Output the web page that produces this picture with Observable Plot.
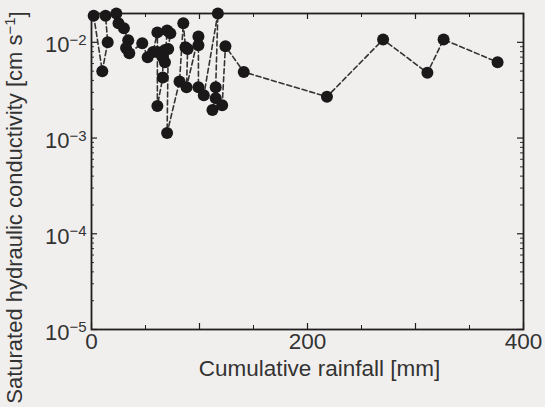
<!DOCTYPE html>
<html><head><meta charset="utf-8">
<script src="https://cdn.jsdelivr.net/npm/d3@7"></script>
<script src="https://cdn.jsdelivr.net/npm/@observablehq/plot@0.6"></script>
<style>
html,body{margin:0;padding:0;background:#f1efee;}
#chart{width:545px;height:407px;overflow:hidden;}
svg{display:block;}
</style></head><body><div id="chart"></div>
<script>
// Cumulative rainfall [mm], in sampling order
const rainfall = [2, 10, 15, 13, 23, 25, 30, 34, 32, 35, 47, 52, 57, 61, 61, 61, 66, 66, 68, 68, 70, 73, 71, 70, 81.5, 85, 87, 89, 88, 99, 99, 99, 104, 117, 115, 115, 112, 121, 124, 141, 218, 270, 311, 326, 376];
// Saturated hydraulic conductivity [cm s^-1]
const conductivity = [0.019, 0.005, 0.010, 0.019, 0.020, 0.0158, 0.014, 0.0105, 0.0087, 0.0077, 0.0098, 0.0070, 0.0079, 0.0127, 0.0079, 0.00216, 0.0043, 0.0070, 0.0083, 0.0062, 0.0133, 0.0124, 0.0085, 0.00113, 0.0039, 0.0158, 0.0089, 0.0085, 0.0034, 0.0115, 0.0093, 0.0034, 0.0028, 0.020, 0.0034, 0.0026, 0.00196, 0.0022, 0.0091, 0.0049, 0.0027, 0.0107, 0.0048, 0.0107, 0.0062];

const xTickLabels = [0, 200, 400];
const xMajorTicks = [0, 100, 200, 300, 400];
const xMinorTicks = [50, 150, 250, 350];
const yDecades = [1e-5, 1e-4, 1e-3, 1e-2];
const yMinorMultipliers = [2, 3, 4, 5, 6, 7, 8, 9];
const yMinorTicks = yDecades.flatMap(d => yMinorMultipliers.map(m => m * d)).filter(v => v < 0.02);

const data = rainfall.map((x, i) => ({x, y: conductivity[i]}));

const W = 545, H = 407, mt = 13, mb = 78, ml = 91, mr = 22;
const pH = H - mt - mb, pW = W - ml - mr;
const ink = "#1f1d1d";

const chart = Plot.plot({
  width: W, height: H,
  marginTop: mt, marginBottom: mb, marginLeft: ml, marginRight: mr,
  style: {background: "transparent", fontFamily: "'Liberation Sans', Arial, sans-serif", fontSize: "22px", color: "#333"},
  x: {domain: [0, 400]},
  y: {type: "log", domain: [1e-5, 0.02]},
  marks: [
    Plot.axisX(xTickLabels, {tickSize: 0, tickPadding: 4, tickFormat: d => String(d), label: "Cumulative rainfall [mm]", labelAnchor: "center", labelArrow: false, labelOffset: 46, fontSize: 22.5}),
    Plot.axisY(yDecades, {tickSize: 0, tickPadding: 5, dy: 3, tickFormat: d => "10^" + Math.round(Math.log10(d)), label: "Saturated hydraulic conductivity [cm s^-1]", labelAnchor: "center", labelArrow: false, labelOffset: 85, fontSize: 22}),
    // inward ticks on all four sides
    Plot.ruleX(xMajorTicks, {x: d => d, insetTop: pH - 6, stroke: ink, strokeWidth: 1.2}),
    Plot.ruleX(xMajorTicks, {x: d => d, insetBottom: pH - 6, stroke: ink, strokeWidth: 1.2}),
    Plot.ruleX(xMinorTicks, {x: d => d, insetTop: pH - 4, stroke: ink, strokeWidth: 1}),
    Plot.ruleX(xMinorTicks, {x: d => d, insetBottom: pH - 4, stroke: ink, strokeWidth: 1}),
    Plot.ruleY(yDecades, {y: d => d, insetRight: pW - 6, stroke: ink, strokeWidth: 1.2}),
    Plot.ruleY(yDecades, {y: d => d, insetLeft: pW - 6, stroke: ink, strokeWidth: 1.2}),
    Plot.ruleY(yMinorTicks, {y: d => d, insetRight: pW - 3, stroke: ink, strokeWidth: 0.9}),
    Plot.ruleY(yMinorTicks, {y: d => d, insetLeft: pW - 3, stroke: ink, strokeWidth: 0.9}),
    Plot.frame({stroke: ink, strokeWidth: 1.8}),
    Plot.line(data, {x: "x", y: "y", stroke: "#333", strokeWidth: 1.6, strokeDasharray: "5,3"}),
    Plot.dot(data, {x: "x", y: "y", r: 6, fill: "#1a1818", stroke: "none"})
  ]
});
document.getElementById("chart").appendChild(chart);

// superscripts in tick labels and axis label; small position tweaks
d3.select(chart).selectAll("text").each(function() {
  const t = d3.select(this);
  const s = this.textContent;
  const m = s.match(/^10\^(-?\d+)$/);
  if (m) {
    t.text("10");
    t.append("tspan").attr("dy", "-0.5em").attr("font-size", "15px").text(m[1].replace("-", "\u2212"));
    return;
  }
  const tr = this.getAttribute("transform") || "";
  const mm = tr.match(/translate\(([-\d.]+),\s*([-\d.]+)\)/);
  if (s.startsWith("Saturated")) {
    t.attr("font-size", "22px");
    t.text("Saturated hydraulic conductivity [cm s");
    t.append("tspan").attr("dy", "-0.45em").attr("font-size", "15px").text("\u22121");
    t.append("tspan").attr("dy", "0.45em").text("]");
    if (mm) this.setAttribute("transform", tr.replace(mm[0], `translate(${mm[1]},207)`));
  } else if (s.startsWith("Cumulative")) {
    if (mm) this.setAttribute("transform", tr.replace(mm[0], `translate(${+mm[1] + 12},${mm[2]})`));
    else this.setAttribute("transform", "translate(12,0)");
  }
});
</script></body></html>
